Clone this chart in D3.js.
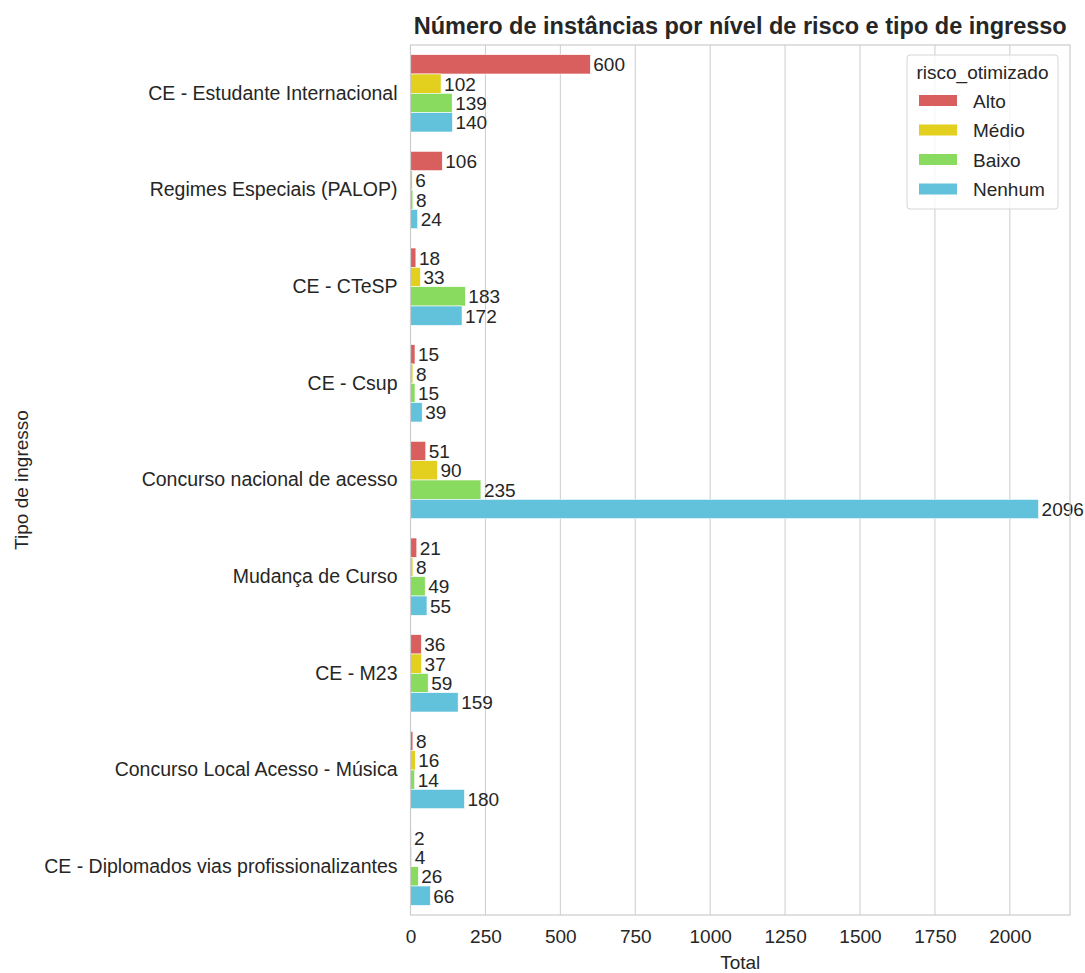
<!DOCTYPE html>
<html>
<head>
<meta charset="utf-8">
<script src="https://cdn.jsdelivr.net/npm/d3@7"></script>
<style>
  body { margin: 0; background: #fff; }
  text { font-family: "Liberation Sans", Arial, sans-serif; fill: #262626; }
</style>
</head>
<body>
<div id="chart"></div>
<script>
var categories = ["CE - Estudante Internacional", "Regimes Especiais (PALOP)", "CE - CTeSP", "CE - Csup",
    "Concurso nacional de acesso", "Mudança de Curso", "CE - M23", "Concurso Local Acesso - Música",
    "CE - Diplomados vias profissionalizantes"];
var riscos = ["Alto", "Médio", "Baixo", "Nenhum"];
var alto   = [600, 106, 18, 15, 51, 21, 36, 8, 2];
var medio  = [102, 6, 33, 8, 90, 8, 37, 16, 4];
var baixo  = [139, 8, 183, 15, 235, 49, 59, 14, 26];
var nenhum = [140, 24, 172, 39, 2096, 55, 159, 180, 66];
var xTicks = [0, 250, 500, 750, 1000, 1250, 1500, 1750, 2000];
var colors = ["#d95f5f", "#e2cf1e", "#88db5e", "#62c2db"];

var series = [alto, medio, baixo, nenhum];
var fs = "19px";

var width = 1085, height = 973;
var margin = {top: 45, right: 15, bottom: 58, left: 410.5};
var pw = width - margin.left - margin.right,
    ph = height - margin.top - margin.bottom;

var svg = d3.select("#chart").append("svg")
    .attr("width", width)
    .attr("height", height);

var g = svg.append("g").attr("transform", "translate(" + margin.left + "," + margin.top + ")");

var maxV = d3.max(series, function(s) { return d3.max(s); });
var x = d3.scaleLinear().domain([0, maxV * 1.05]).range([0, pw]);
var y0 = d3.scaleBand().domain(categories).range([0, ph]).paddingInner(0.2).paddingOuter(0.1);
var y1 = d3.scaleBand().domain(riscos).range([0, y0.bandwidth()]);

// grid
g.selectAll(".grid").data(xTicks).enter().append("line")
    .attr("x1", function(d) { return x(d); })
    .attr("x2", function(d) { return x(d); })
    .attr("y1", 0).attr("y2", ph)
    .attr("stroke", "#cccccc").attr("stroke-width", 1);

// bars
var rows = [];
categories.forEach(function(c, i) {
    riscos.forEach(function(r, j) {
        rows.push({cat: c, risco: r, v: series[j][i], k: j});
    });
});

g.selectAll(".bar").data(rows).enter().append("rect")
    .attr("x", 0)
    .attr("y", function(d) { return y0(d.cat) + y1(d.risco); })
    .attr("width", function(d) { return x(d.v); })
    .attr("height", y1.bandwidth())
    .attr("fill", function(d) { return colors[d.k]; })
    .attr("stroke", "#fff").attr("stroke-width", 0.6);

g.selectAll(".lbl").data(rows).enter().append("text")
    .attr("x", function(d) { return x(d.v) + 3; })
    .attr("y", function(d) { return y0(d.cat) + y1(d.risco) + y1.bandwidth() / 2; })
    .attr("dy", "0.36em")
    .style("font-size", fs)
    .text(function(d) { return d.v; });

// frame
g.append("rect").attr("width", pw).attr("height", ph)
    .attr("fill", "none").attr("stroke", "#cccccc").attr("stroke-width", 1.2);

// x axis
var xAxis = g.append("g").attr("transform", "translate(0," + ph + ")")
    .call(d3.axisBottom(x).tickValues(xTicks).tickFormat(d3.format("d")).tickSize(0).tickPadding(15));
xAxis.select(".domain").remove();
xAxis.selectAll("text").style("font-size", fs).style("font-family", "Liberation Sans, Arial, sans-serif").attr("fill", "#262626");

// y axis
var yAxis = g.append("g")
    .call(d3.axisLeft(y0).tickSize(0).tickPadding(13));
yAxis.select(".domain").remove();
yAxis.selectAll("text").style("font-size", "19.5px").style("font-family", "Liberation Sans, Arial, sans-serif").attr("fill", "#262626");

// axis titles
svg.append("text")
    .attr("x", margin.left + pw / 2).attr("y", 969)
    .attr("text-anchor", "middle")
    .style("font-size", fs)
    .text("Total");

svg.append("text")
    .attr("transform", "translate(28," + (margin.top + ph / 2) + ") rotate(-90)")
    .attr("text-anchor", "middle")
    .style("font-size", fs)
    .text("Tipo de ingresso");

svg.append("text")
    .attr("x", margin.left + pw / 2).attr("y", 34)
    .attr("text-anchor", "middle")
    .style("font-size", "23.5px").style("font-weight", "bold")
    .text("Número de instâncias por nível de risco e tipo de ingresso");

// legend
var leg = svg.append("g").attr("transform", "translate(907,55)");
leg.append("rect").attr("width", 151).attr("height", 154).attr("rx", 3)
    .attr("fill", "#fff").attr("fill-opacity", 0.8)
    .attr("stroke", "#d6d6d6").attr("stroke-width", 1);
leg.append("text").attr("x", 75.5).attr("y", 24).attr("text-anchor", "middle")
    .style("font-size", fs).text("risco_otimizado");
riscos.forEach(function(r, i) {
    var yy = 46 + i * 29.5;
    leg.append("rect").attr("x", 12).attr("y", yy - 6).attr("width", 38).attr("height", 11)
        .attr("fill", colors[i]);
    leg.append("text").attr("x", 66).attr("y", yy).attr("dy", "0.36em")
        .style("font-size", fs).text(r);
});
</script>
</body>
</html>
